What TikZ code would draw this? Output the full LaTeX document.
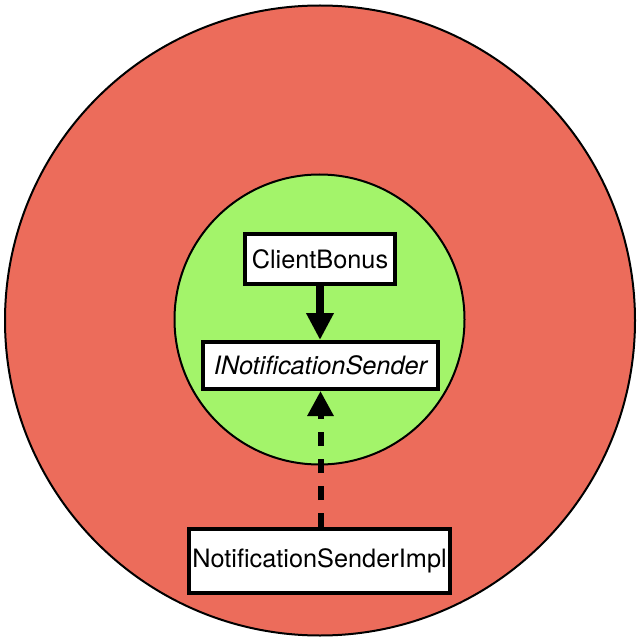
\documentclass[tikz,border=0pt]{standalone}
\usepackage{fontspec}
\setmainfont{TeX Gyre Heros}
\usetikzlibrary{arrows.meta}
\definecolor{outerred}{RGB}{236,108,91}
\definecolor{innergreen}{RGB}{163,244,106}
\tikzset{
  classbox/.style={draw=black, line width=4pt, fill=white, inner sep=0pt,
    font=\fontsize{25.3}{30}\selectfont, minimum height=48pt},
  usesarrow/.style={line width=7.5pt, -{Triangle[width=26pt,length=27pt]}},
  implarrow/.style={line width=6pt, dash pattern=on 14pt off 13pt,
    -{Triangle[width=25pt,length=25pt]}},
  ring/.style={draw=black, line width=2pt}
}
\begin{document}
\begin{tikzpicture}[x=1pt,y=-1pt]
  \useasboundingbox (0,0) rectangle (640,639);
  \draw[ring, fill=outerred] (320,320.5) circle[radius=315];
  \draw[ring, fill=innergreen] (319.5,319.5) circle[radius=145];
  \node[classbox, minimum width=150pt, minimum height=49pt] (cb) at (320,259) {ClientBonus};
  \node[classbox, minimum width=235pt, minimum height=47pt] (ins) at (320.5,365.5) {\itshape INotificationSender};
  \node[classbox, minimum width=261pt, minimum height=64pt] (impl) at (319.5,561) {NotificationSenderImpl};
  \draw[usesarrow] (cb.south) -- (cb.south |- ins.north);
  \draw[implarrow] (impl.north -| ins.south) -- (ins.south);
\end{tikzpicture}
\end{document}
